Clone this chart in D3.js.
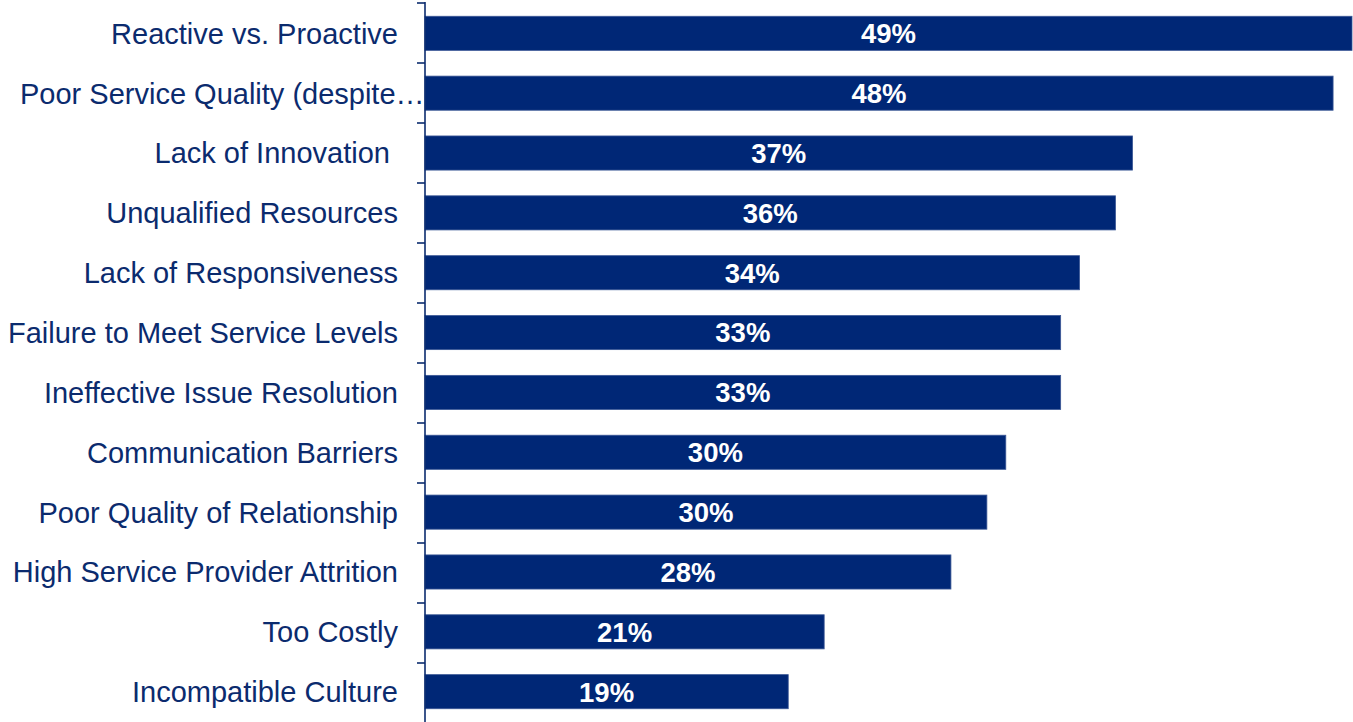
<!DOCTYPE html>
<html>
<head>
<meta charset="utf-8">
<script src="https://cdn.jsdelivr.net/npm/d3@7"></script>
<style>
  html, body { margin: 0; padding: 0; background: #ffffff; }
  svg { display: block; }
  text { font-family: "Liberation Sans", Arial, sans-serif; }
</style>
</head>
<body>
<svg id="chart" width="1353" height="722"></svg>
<script>
const categories = [
  "Reactive vs. Proactive",
  "Poor Service Quality (despite\u2026",
  "Lack of Innovation ",
  "Unqualified Resources",
  "Lack of Responsiveness",
  "Failure to Meet Service Levels",
  "Ineffective Issue Resolution",
  "Communication Barriers",
  "Poor Quality of Relationship",
  "High Service Provider Attrition",
  "Too Costly",
  "Incompatible Culture"
];
const values = [49.0, 48.0, 37.4, 36.5, 34.6, 33.6, 33.6, 30.7, 29.7, 27.8, 21.1, 19.2];
const valueLabels = ["49%", "48%", "37%", "36%", "34%", "33%", "33%", "30%", "30%", "28%", "21%", "19%"];

const chartW = 1353, chartH = 722;
const axisX = 425, plotRight = 1352, plotTop = 2, plotBottom = 722;
const navy = "#002776";
const textNavy = "#0b2b6e";

const svg = d3.select("#chart");

const x = d3.scaleLinear().domain([0, 49]).range([axisX, plotRight]);
const y = d3.scaleBand().domain(categories).range([plotTop, plotBottom])
  .paddingInner(0.43).paddingOuter(0.23);
const yStep = d3.scaleBand().domain(categories).range([plotTop, plotBottom]).padding(0);

// bars
svg.append("g").selectAll("rect")
  .data(categories)
  .join("rect")
  .attr("x", x(0))
  .attr("y", d => y(d) + 0.5)
  .attr("width", (d, i) => x(values[i]) - x(0))
  .attr("height", y.bandwidth())
  .attr("fill", navy)
  .attr("stroke", "#3b5896")
  .attr("stroke-width", 0.8);

// value labels
svg.append("g").selectAll("text")
  .data(categories)
  .join("text")
  .attr("x", (d, i) => (x(0) + x(values[i])) / 2)
  .attr("y", d => y(d) + 0.5 + y.bandwidth() / 2)
  .attr("dy", "0.36em")
  .attr("text-anchor", "middle")
  .attr("fill", "#ffffff")
  .attr("font-weight", "bold")
  .attr("font-size", "27.5px")
  .text((d, i) => valueLabels[i]);

// axis line and ticks
const axisG = svg.append("g");
axisG.append("line")
  .attr("x1", axisX).attr("x2", axisX)
  .attr("y1", plotTop).attr("y2", plotBottom)
  .attr("stroke", textNavy).attr("stroke-width", 1.6);
const tickYs = categories.map(c => yStep(c)).concat([plotBottom]);
axisG.selectAll("line.tick")
  .data(tickYs)
  .join("line")
  .attr("class", "tick")
  .attr("x1", axisX - 8).attr("x2", axisX)
  .attr("y1", d => d + 1).attr("y2", d => d + 1)
  .attr("stroke", textNavy).attr("stroke-width", 1.6);

// category labels
const labelRight = 398;
const labels = svg.append("g").selectAll("text")
  .data(categories)
  .join("text")
  .attr("x", labelRight)
  .attr("y", d => y(d) + 0.5 + y.bandwidth() / 2)
  .attr("dy", "0.36em")
  .attr("text-anchor", "end")
  .attr("fill", textNavy)
  .attr("font-size", "29px")
  .style("white-space", "pre")
  .text(d => d);
labels.each(function() {
  const w = this.getComputedTextLength();
  if (w > labelRight) {
    d3.select(this).attr("text-anchor", "start").attr("x", 20);
  }
});
</script>
</body>
</html>
